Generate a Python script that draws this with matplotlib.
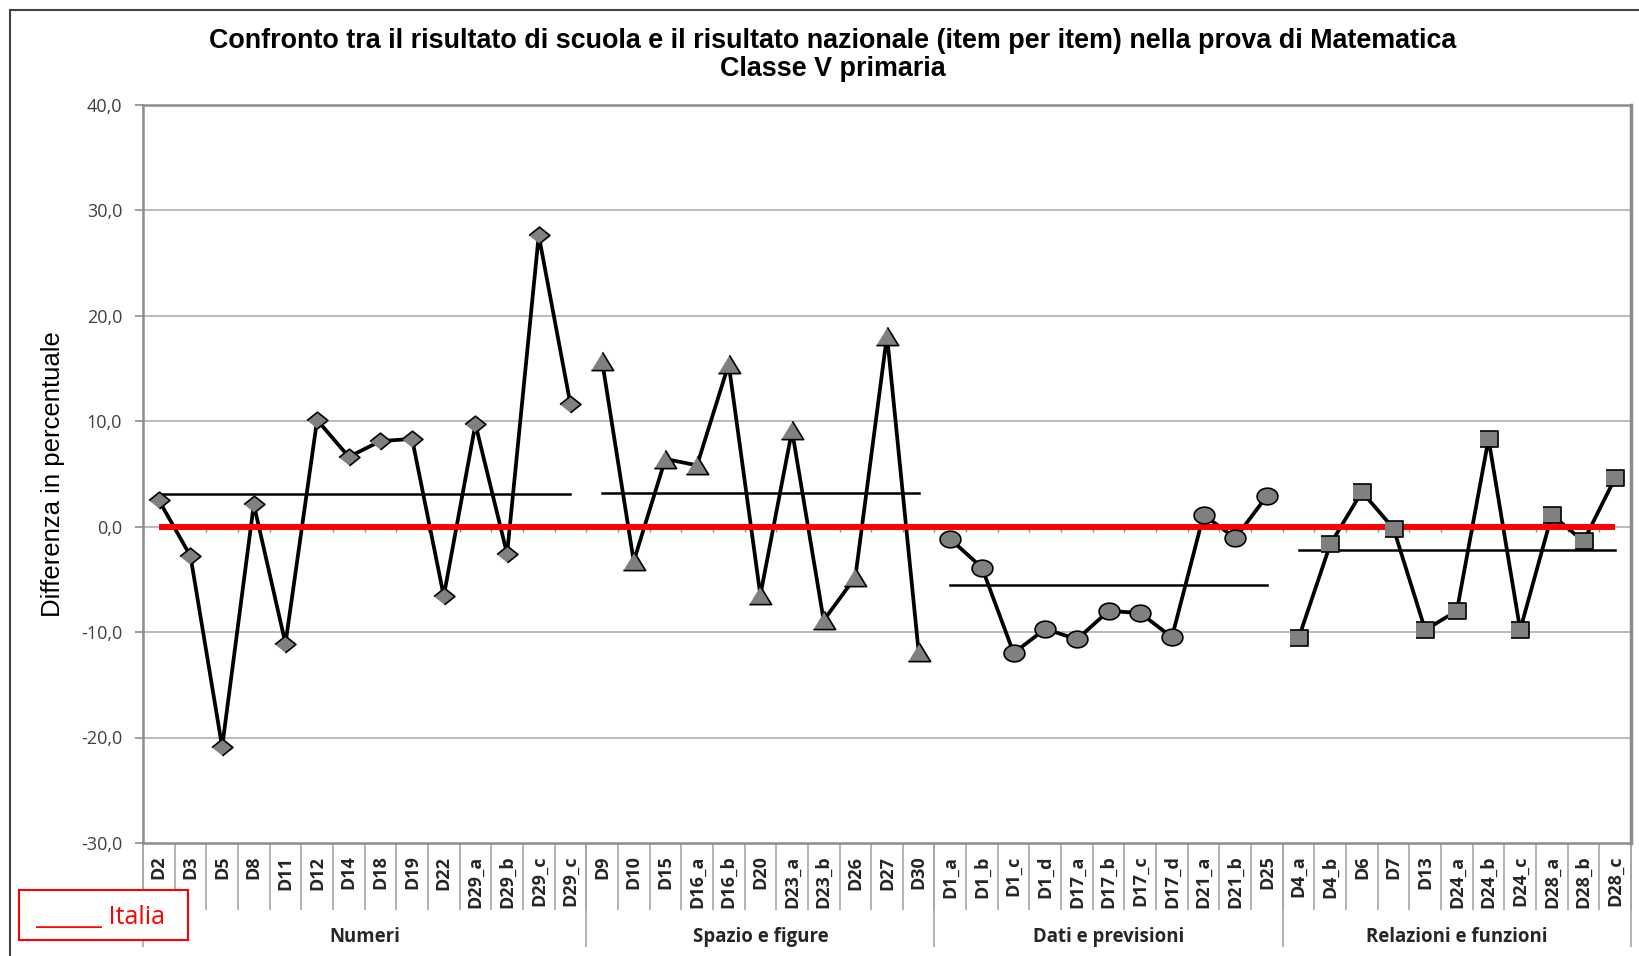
import numpy as np
import matplotlib.pyplot as plt
import matplotlib.transforms as mtransforms
from matplotlib.patches import Rectangle
from matplotlib.lines import Line2D

# dati (differenza scuola - Italia, item per item)
gruppi = ['Numeri', 'Spazio e figure', 'Dati e previsioni', 'Relazioni e funzioni']

numeri_item = ['D2', 'D3', 'D5', 'D8', 'D11', 'D12', 'D14', 'D18', 'D19', 'D22',
               'D29_a', 'D29_b', 'D29_c', 'D29_c']
numeri_val = [2.5, -2.8, -20.9, 2.1, -11.1, 10.1, 6.6, 8.1, 8.3, -6.6, 9.7, -2.6, 27.6, 11.6]

spazio_item = ['D9', 'D10', 'D15', 'D16_a', 'D16_b', 'D20', 'D23_a', 'D23_b', 'D26', 'D27', 'D30']
spazio_val = [15.7, -3.3, 6.4, 5.8, 15.4, -6.5, 9.1, -8.9, -4.8, 18.1, -11.9]

dati_item = ['D1_a', 'D1_b', 'D1_c', 'D1_d', 'D17_a', 'D17_b', 'D17_c', 'D17_d', 'D21_a', 'D21_b', 'D25']
dati_val = [-1.2, -3.9, -12.0, -9.7, -10.7, -8.0, -8.2, -10.5, 1.1, -1.1, 2.9]

relazioni_item = ['D4_a', 'D4_b', 'D6', 'D7', 'D13', 'D24_a', 'D24_b', 'D24_c', 'D28_a', 'D28_b', 'D28_c']
relazioni_val = [-10.6, -1.7, 3.3, -0.2, -9.8, -8.0, 8.3, -9.8, 1.1, -1.4, 4.6]

italia = 0.0
y_ticks = [-30, -20, -10, 0, 10, 20, 30, 40]

items = [numeri_item, spazio_item, dati_item, relazioni_item]
valori = [numeri_val, spazio_val, dati_val, relazioni_val]

# marker leggermente "schiacciati" come nell'immagine originale
t = np.linspace(0, 2 * np.pi, 40)
ellisse = list(zip(np.cos(t), 0.8 * np.sin(t)))
marker = [
    ([(-1, 0), (0, 0.8), (1, 0), (0, -0.8)], 15),       # rombo
    ([(-1, -0.82), (1, -0.82), (0, 0.82)], 16),          # triangolo
    (ellisse, 15),                                       # cerchio
    ([(-1, -0.9), (1, -0.9), (1, 0.9), (-1, 0.9)], 13.5),  # quadrato
]

W, H = 1639, 956
fig = plt.figure(figsize=(W / 100, H / 100), dpi=100)
ax = fig.add_axes([143 / W, 1 - 843 / H, (1631 - 143) / W, (843 - 104.5) / H])

calibri = ['Open Sans', 'DejaVu Sans']
arial = ['Liberation Sans', 'DejaVu Sans']
grigio = '#8c8c8c'

n_tot = sum(len(v) for v in valori)
start = 0
for k in range(4):
    x = np.arange(start, start + len(valori[k]))
    ax.plot(x, valori[k], color='black', lw=2.7, zorder=3, solid_joinstyle='miter')
    ax.plot(x, valori[k], linestyle='none', marker=marker[k][0], ms=marker[k][1],
            mfc='#808080', mec='black', mew=1.2, zorder=5)
    media = np.mean(valori[k])
    ax.plot([x[0], x[-1]], [media, media], color='black', lw=1.8, zorder=3)
    start += len(valori[k])

# linea Italia
ax.plot([0, n_tot - 1], [italia, italia], color='#ff0000', lw=4.3, zorder=4,
        solid_capstyle='butt')
# piccole tacche dell'asse categorie sullo zero
ax.vlines(np.arange(-0.5, n_tot), -0.55, 0, color=grigio, lw=1, zorder=2)

ax.set_xlim(-0.5, n_tot - 0.5)
ax.set_ylim(-30, 40)
ax.set_yticks(y_ticks)
ax.set_yticklabels([f'{v:.1f}'.replace('.', ',') for v in y_ticks],
                   fontfamily=calibri, fontsize=13, color='#404040')
ax.tick_params(axis='y', length=6, width=1.2, color=grigio, pad=9)
for v in y_ticks[1:-1]:
    ax.axhline(v, color='#b5b5b5', lw=1.3, zorder=1)

tutte = [it for g in items for it in g]
ax.set_xticks(np.arange(n_tot))
ax.set_xticklabels(tutte, rotation=90, fontfamily=calibri, fontsize=13,
                   fontweight='bold', color='#262626')
ax.tick_params(axis='x', length=0, pad=9)

for s in ax.spines.values():
    s.set_color(grigio)
    s.set_linewidth(1.8)
ax.spines['right'].set_linewidth(2.5)

# separatori sotto l'asse
tr = mtransforms.blended_transform_factory(ax.transData, ax.transAxes)
ax.vlines(np.arange(-0.5, n_tot), -0.091, 0, color='#a6a6a6', lw=1.2,
          transform=tr, clip_on=False)
bordi = np.cumsum([0] + [len(v) for v in valori]) - 0.5
ax.vlines(bordi, -0.141, 0, color='#a6a6a6', lw=1.2, transform=tr, clip_on=False)
for k in range(4):
    ax.text((bordi[k] + bordi[k + 1]) / 2, -0.127, gruppi[k], transform=tr,
            ha='center', va='center', fontfamily=calibri, fontsize=13.4,
            fontweight='bold', color='#262626')

fig.text(833 / W, 1 - 41 / H,
         'Confronto tra il risultato di scuola e il risultato nazionale (item per item) nella prova di Matematica',
         ha='center', va='center', fontsize=19.4, fontweight='bold', family=arial)
fig.text(833 / W, 1 - 69 / H, 'Classe V primaria',
         ha='center', va='center', fontsize=19.4, fontweight='bold', family=arial)
fig.text(53 / W, 1 - 474 / H, 'Differenza in percentuale', rotation=90,
         ha='center', va='center', fontsize=18.5, family=arial)

# legenda
fig.patches.append(Rectangle((19 / W, 1 - 940 / H), 169 / W, 50 / H,
                             transform=fig.transFigure, fc='white', ec='#ff0000',
                             lw=1.5, zorder=10))
fig.text(36 / W, 1 - 917 / H, '______ Italia', color='#ff0000', fontsize=18,
         family=calibri, ha='left', va='center', zorder=11)

# cornice esterna
fig.lines.append(Line2D([10 / W, 1], [1 - 10 / H, 1 - 10 / H], transform=fig.transFigure,
                        color='#404040', lw=1.5))
fig.lines.append(Line2D([10 / W, 10 / W], [0, 1 - 10 / H], transform=fig.transFigure,
                        color='#404040', lw=1.5))

fig.savefig('out.png', dpi=100)
